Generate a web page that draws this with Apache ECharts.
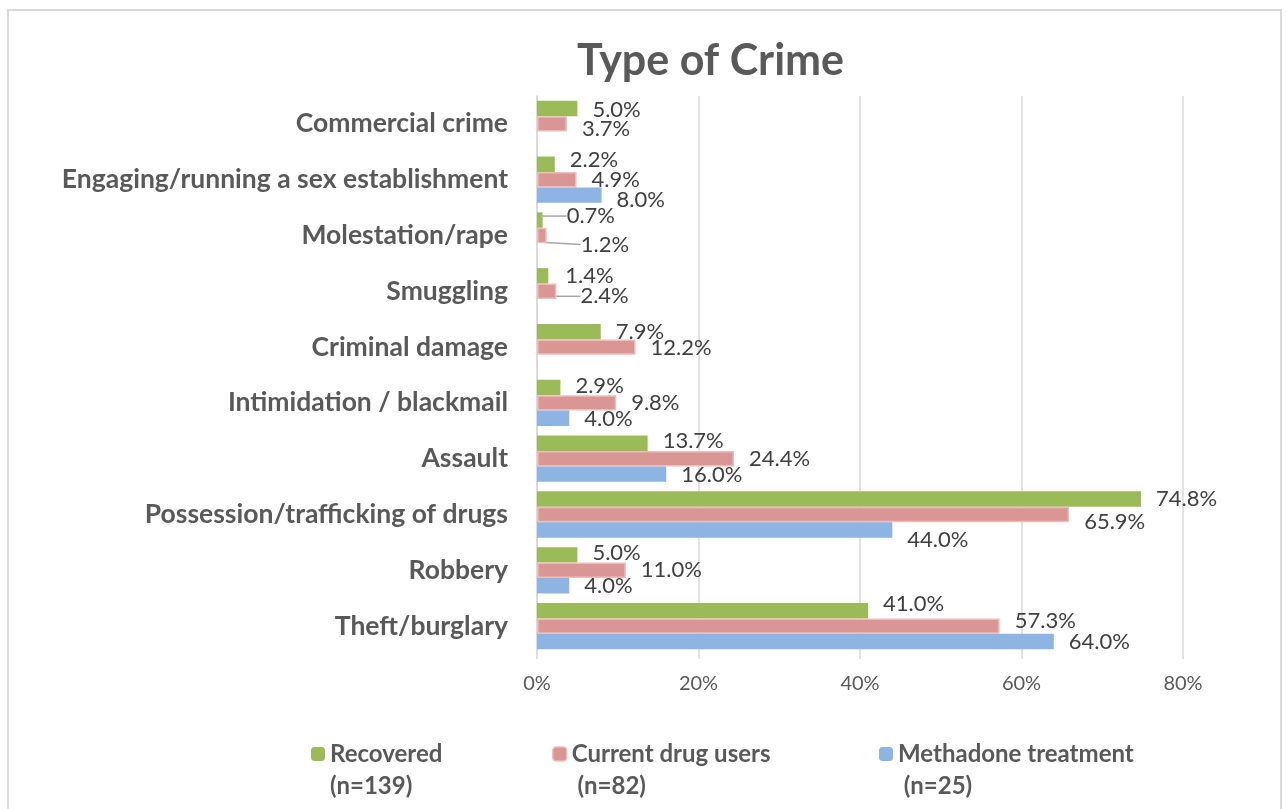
<!DOCTYPE html>
<html>
<head>
<meta charset="utf-8">
<script src="https://cdn.jsdelivr.net/npm/echarts@6/dist/echarts.min.js"></script>
<style>
html, body { margin: 0; padding: 0; background: #fff; }
#chart { width: 1287px; height: 809px; }
.frame { position: absolute; left: 7px; top: 9px; width: 1275px; height: 820px; border: 2px solid #D9D9D9; box-sizing: border-box; pointer-events: none; }
</style>
</head>
<body>
<div id="chart"></div>
<div class="frame"></div>
<script>
// categories top to bottom
var categories = [
	'Commercial crime',
	'Engaging/running a sex establishment',
	'Molestation/rape',
	'Smuggling',
	'Criminal damage',
	'Intimidation / blackmail',
	'Assault',
	'Possession/trafficking of drugs',
	'Robbery',
	'Theft/burglary'
];
var recovered = [5.0, 2.2, 0.7, 1.4, 7.9, 2.9, 13.7, 74.8, 5.0, 41.0];
var currentUsers = [3.7, 4.9, 1.2, 2.4, 12.2, 9.8, 24.4, 65.9, 11.0, 57.3];
var methadone = [null, 8.0, null, null, null, 4.0, 16.0, 44.0, 4.0, 64.0];
var xTicks = [0, 20, 40, 60, 80];

var seriesNames = ['Recovered', 'Current drug users', 'Methadone treatment'];
var seriesN = ['(n=139)', ' (n=82)', ' (n=25)'];

// label nudges (dx, dy) like the hand-placed labels of the original
var labelShift = [
	[[0, 1], [0, -4], [9, -4], [2, 0], [0, 0], [0, -2], [0, -2], [0, 0], [0, -2], [0, -7]],
	[[0, 5], [0, 0], [19, 9], [9, 5], [0, 1], [0, 0], [0, 0], [0, 7], [0, 0], [0, -5]],
	[[0, 0], [0, 5], [0, 0], [0, 0], [0, 0], [0, 1], [0, 1], [0, 10], [0, 0], [0, 0]]
];
var withLine = { '0-2': true, '1-2': true, '1-3': true };

var fontMain = 'Lato, "Open Sans", sans-serif';
var colors = ['#9BBB59', '#D99694', '#8DB4E2'];

var chart = echarts.init(document.getElementById('chart'));

function makeSeries(i, values){
	return {
		name: seriesNames[i],
		type: 'bar',
		barGap: '0%',
		barCategoryGap: '17%',
		itemStyle: i === 1
			? { color: colors[i], borderColor: '#EDBDBC', borderWidth: 1.5 }
			: { color: colors[i] },
		label: {
			show: true,
			position: 'right',
			distance: 15,
			color: '#404040',
			fontFamily: fontMain,
			fontSize: 22,
			formatter: function(p){
				return p.value == null ? '' : p.value.toFixed(1) + '%';
			}
		},
		labelLine: {
			show: false,
			lineStyle: { color: '#A6A6A6', width: 1.5 }
		},
		data: values.map(function(v, k){
			var item = { value: v };
			if(withLine[i + '-' + k]){
				item.labelLine = { show: true, lineStyle: { color: '#A6A6A6', width: 1.5 } };
			}
			return item;
		}),
		labelLayout: function(params){
			var s = labelShift[i][params.dataIndex] || [0, 0];
			return { dx: s[0], dy: s[1] };
		}
	};
}

function makeLegend(i, left){
	return {
		data: [seriesNames[i]],
		left: left,
		top: 701,
		itemWidth: 14,
		itemHeight: 14,
		itemStyle: i === 1 ? { borderColor: '#EDBDBC', borderWidth: 1.5 } : {},
		textStyle: {
			color: '#595959',
			fontFamily: fontMain,
			fontWeight: 'bold',
			fontSize: 24,
			lineHeight: 32
		},
		// leading empty line keeps the first line level with the marker
		formatter: function(name){
			return '\n' + name + '\n' + seriesN[i];
		},
		selectedMode: false
	};
}

chart.setOption({
	animation: false,
	color: colors,
	title: {
		text: 'Type of Crime',
		left: 572,
		top: 35,
		textStyle: {
			color: '#595959',
			fontFamily: fontMain,
			fontWeight: 'bold',
			fontSize: 43
		}
	},
	legend: [
		makeLegend(0, 306),
		makeLegend(1, 547),
		makeLegend(2, 874)
	],
	grid: {
		left: 537,
		right: 104,
		top: 96,
		bottom: 155,
		containLabel: false
	},
	xAxis: {
		type: 'value',
		min: xTicks[0],
		max: xTicks[xTicks.length - 1],
		interval: 20,
		axisLine: { show: false },
		axisTick: { show: true, length: 5, lineStyle: { color: '#D9D9D9', width: 1.5 } },
		splitLine: { show: true, lineStyle: { color: '#D9D9D9', width: 1.5 } },
		axisLabel: {
			color: '#595959',
			fontFamily: fontMain,
			fontSize: 20,
			margin: 20,
			formatter: '{value}%'
		}
	},
	yAxis: {
		type: 'category',
		inverse: true,
		data: categories,
		axisLine: { show: true, lineStyle: { color: '#D9D9D9', width: 1.5 } },
		axisTick: { show: false },
		axisLabel: {
			color: '#595959',
			fontFamily: fontMain,
			fontWeight: 'bold',
			fontSize: 26.5,
			margin: 29
		}
	},
	series: [
		makeSeries(0, recovered),
		makeSeries(1, currentUsers),
		makeSeries(2, methadone)
	]
});
</script>
</body>
</html>
